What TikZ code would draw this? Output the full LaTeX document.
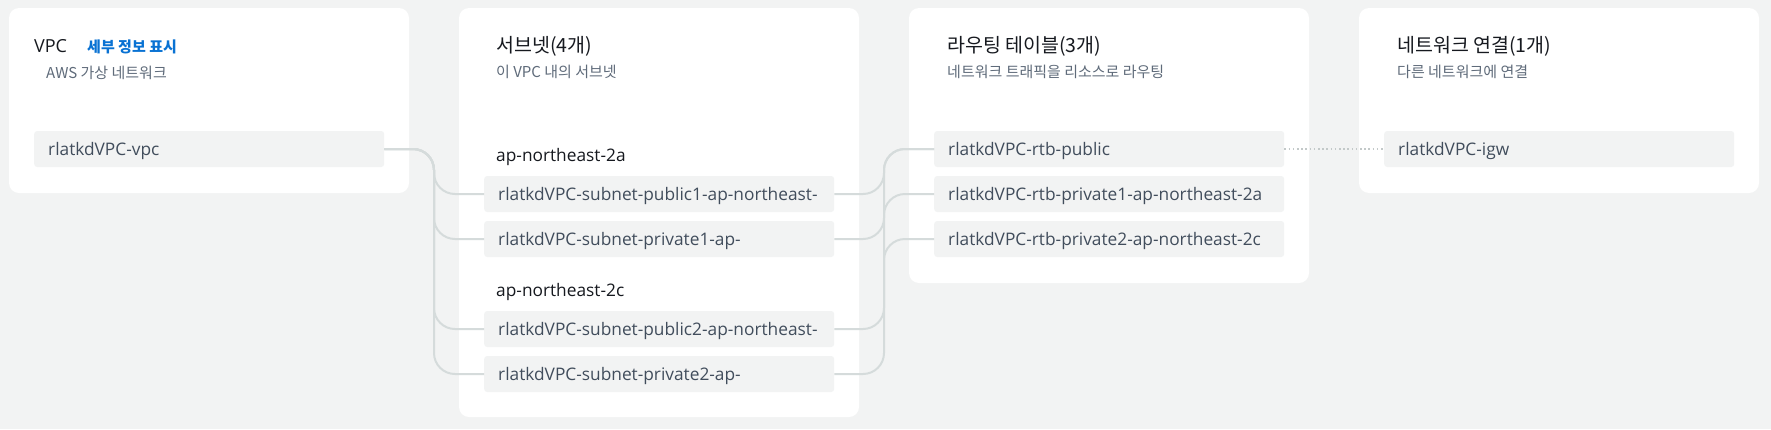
\documentclass[tikz,border=0pt]{standalone}
\usepackage{fontspec}
\setmainfont{Open Sans}
\newfontfamily\kr{Noto Sans CJK KR}
\definecolor{bg}{HTML}{F2F3F3}
\definecolor{boxgray}{HTML}{F2F3F3}
\definecolor{titletext}{HTML}{16191F}
\definecolor{subtext}{HTML}{5F6B7A}
\definecolor{boxtext}{HTML}{414D5C}
\definecolor{linkblue}{HTML}{0972D3}
\definecolor{linegray}{HTML}{D5DBDB}
\definecolor{dotgray}{HTML}{C3C9C9}

\begin{document}
\begin{tikzpicture}[x=1pt, y=-1pt,
	panel/.style={fill=white, rounded corners=10pt},
	res/.style={fill=boxgray, rounded corners=3pt, anchor=west, minimum height=36pt, text width=322pt, inner xsep=14pt, inner ysep=0pt, text height=14pt, text depth=1pt, align=left, text=boxtext, font=\fontsize{17.3}{20}\selectfont},
	title/.style={anchor=base west, inner sep=0pt, text=titletext, font=\kr\fontsize{19.5}{22}\selectfont},
	sub/.style={anchor=base west, inner sep=0pt, text=subtext, font=\kr\fontsize{15}{18}\selectfont},
	zone/.style={anchor=base west, inner sep=0pt, text=titletext, font=\fontsize{17.3}{20}\selectfont},
	conn/.style={draw=linegray, line width=2pt, rounded corners=21pt},
	dots/.style={draw=dotgray, line width=1.6pt, dash pattern=on 1.6pt off 2.6pt}]
	\useasboundingbox (0, 0) rectangle (1771, 429);
	\fill[bg] (0, 0) rectangle (1771, 429);

	% panels
	\fill[panel] (9, 8) rectangle (409, 193);
	\fill[panel] (459, 8) rectangle (859, 417);
	\fill[panel] (909, 8) rectangle (1309, 283);
	\fill[panel] (1359, 8) rectangle (1759, 193);

	% VPC
	\node[title, font=\fontsize{18}{22}\selectfont] (T1) at (34, 52) {VPC};
	\node[anchor=base west, inner sep=0pt, text=linkblue, font=\kr\bfseries\fontsize{15}{18}\selectfont] (D) at (87, 52) {세부 정보 표시};
	\node[sub] (S1) at (46, 78) {AWS 가상 네트워크};
	\node[res] (V) at (34, 149) {rlatkdVPC-vpc};

	% subnets
	\node[title] (T2) at (496, 52) {서브넷(4개)};
	\node[sub] (S2) at (496, 77) {이 VPC 내의 서브넷};
	\node[zone] (Z1) at (496, 161) {ap-northeast-2a};
	\node[res] (N1) at (484, 194) {\mbox{rlatkdVPC-subnet-public1-ap-northeast-}};
	\node[res] (N2) at (484, 239) {rlatkdVPC-subnet-private1-ap-};
	\node[zone] (Z2) at (496, 296) {ap-northeast-2c};
	\node[res] (N3) at (484, 329) {\mbox{rlatkdVPC-subnet-public2-ap-northeast-}};
	\node[res] (N4) at (484, 374) {rlatkdVPC-subnet-private2-ap-};

	% route tables
	\node[title] (T3) at (947, 52) {라우팅 테이블(3개)};
	\node[sub] (S3) at (947, 77) {네트워크 트래픽을 리소스로 라우팅};
	\node[res] (R1) at (934, 149) {rlatkdVPC-rtb-public};
	\node[res] (R2) at (934, 194) {\mbox{rlatkdVPC-rtb-private1-ap-northeast-2a}};
	\node[res] (R3) at (934, 239) {\mbox{rlatkdVPC-rtb-private2-ap-northeast-2c}};

	% network connections
	\node[title] (T4) at (1397, 52) {네트워크 연결(1개)};
	\node[sub] (S4) at (1397, 77) {다른 네트워크에 연결};
	\node[res] (G) at (1384, 149) {rlatkdVPC-igw};

	% connectors
	\coordinate (L) at (434, 0);
	\coordinate (R) at (884, 0);
	\foreach \n in {N1, N2, N3, N4}
		\draw[conn] (V.east) -| (L |- \n.west) -- (\n.west);
	\draw[conn] (N1.east) -| (R |- R1.west) -- (R1.west);
	\draw[conn] (N2.east) -| (R |- R2.west) -- (R2.west);
	\draw[conn] (N3.east) -| (R |- R1.west) -- (R1.west);
	\draw[conn] (N4.east) -| (R |- R3.west) -- (R3.west);
	\draw[dots] (R1.east) -- (G.west);
\end{tikzpicture}
\end{document}
